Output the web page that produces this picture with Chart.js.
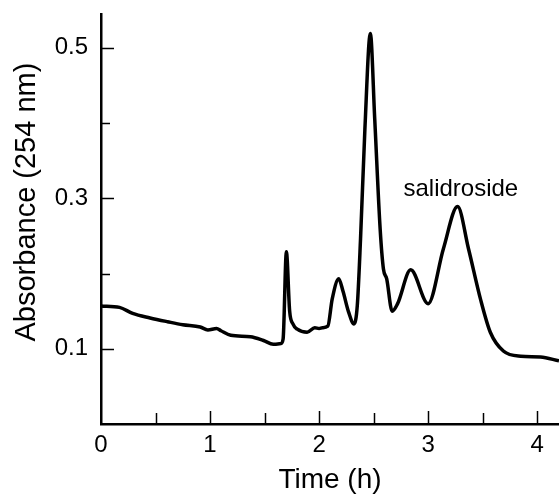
<!DOCTYPE html>
<html>
<head>
<meta charset="utf-8">
<script src="https://cdn.jsdelivr.net/npm/chart.js@4"></script>
<style>
  html, body { margin: 0; padding: 0; background: #fff; }
</style>
</head>
<body>
<canvas id="chromChart" width="559" height="497"></canvas>
<script>
// chromatogram trace
const timeH = [0.00, 0.17, 0.29, 0.45, 0.61, 0.75, 0.91, 0.98, 1.06, 1.10, 1.19, 1.37, 1.49, 1.58, 1.65, 1.67, 1.70, 1.73, 1.76, 1.80,
               1.89, 1.96, 2.00, 2.03, 2.08, 2.12, 2.18, 2.22, 2.27, 2.32, 2.35, 2.38, 2.42, 2.47, 2.51, 2.56, 2.59, 2.62, 2.67, 2.72,
               2.84, 3.00, 3.14, 3.27, 3.37, 3.48, 3.57, 3.69, 3.85, 4.03, 4.20];
const absorbance = [0.157, 0.155, 0.147, 0.141, 0.136, 0.132, 0.129, 0.125, 0.127, 0.124, 0.118, 0.116, 0.111, 0.106, 0.107, 0.113, 0.229, 0.150, 0.133, 0.126,
                    0.122, 0.128, 0.127, 0.128, 0.130, 0.166, 0.193, 0.176, 0.149, 0.133, 0.157, 0.246, 0.392, 0.519, 0.406, 0.259, 0.206, 0.193, 0.150, 0.160,
                    0.205, 0.160, 0.233, 0.289, 0.233, 0.166, 0.122, 0.097, 0.090, 0.089, 0.084];

const xTicks = [0, 0.5, 1, 1.5, 2, 2.5, 3, 3.5, 4];
const xLabels = { 0: '0', 1: '1', 2: '2', 3: '3', 4: '4' };
const yTicks = [0.1, 0.2, 0.3, 0.4, 0.5];
const yLabels = { 0.1: '0.1', 0.3: '0.3', 0.5: '0.5' };

const yTitle = 'Absorbance (254 nm)';
const peakLabel = 'salidroside';
const peakLabelAt = { x: 3.30, y: 0.3125 };

const FONT = '"Liberation Sans", Arial, Helvetica, sans-serif';

// tick marks point into the plot, like the original figure
const innerTicks = {
    id: 'innerTicks',
    afterDatasetsDraw(chart) {
        const { ctx, chartArea, scales } = chart;
        ctx.save();
        ctx.strokeStyle = '#000';
        ctx.lineWidth = 1.5;
        yTicks.forEach(v => {
            const y = Math.round(scales.y.getPixelForValue(v)) + 0.5;
            const len = yLabels[v] ? 13 : 9;
            ctx.beginPath();
            ctx.moveTo(chartArea.left, y);
            ctx.lineTo(chartArea.left + len, y);
            ctx.stroke();
        });
        xTicks.forEach(v => {
            if (v === 0) return;
            const x = Math.round(scales.x.getPixelForValue(v)) + 0.5;
            const len = xLabels[v] ? 13 : 11;
            ctx.beginPath();
            ctx.moveTo(x, chartArea.bottom);
            ctx.lineTo(x, chartArea.bottom - len);
            ctx.stroke();
        });
        ctx.fillStyle = '#000';
        ctx.textAlign = 'center';
        ctx.textBaseline = 'middle';
        // peak annotation
        ctx.font = '24px ' + FONT;
        ctx.fillText(peakLabel, scales.x.getPixelForValue(peakLabelAt.x), scales.y.getPixelForValue(peakLabelAt.y));
        // y title sits a bit above the middle of the axis in the original
        ctx.font = '29px ' + FONT;
        ctx.translate(27, scales.y.getPixelForValue(0.295));
        ctx.rotate(-Math.PI / 2);
        ctx.fillText(yTitle, 0, 0);
        ctx.restore();
    }
};

new Chart(document.getElementById('chromChart'), {
    type: 'line',
    data: {
        datasets: [{
            data: timeH.map((t, i) => ({ x: t, y: absorbance[i] })),
            borderColor: '#000',
            borderWidth: 3.5,
            pointRadius: 0,
            fill: false,
            cubicInterpolationMode: 'monotone'
        }]
    },
    options: {
        responsive: false,
        animation: false,
        layout: { padding: { top: 14, right: 0, left: 0, bottom: 0 } },
        plugins: { legend: { display: false }, tooltip: { enabled: false } },
        scales: {
            x: {
                type: 'linear',
                min: 0,
                max: 4.2,
                afterBuildTicks: s => { s.ticks = xTicks.map(v => ({ value: v })); },
                afterFit: s => { s.height = 73; s.paddingLeft = 0; s.paddingRight = 0; },
                grid: { display: false, drawTicks: false },
                border: { display: true, color: '#000', width: 2.5 },
                ticks: {
                    autoSkip: false,
                    maxRotation: 0,
                    padding: 7,
                    color: '#000',
                    font: { family: FONT, size: 24 },
                    callback: v => xLabels[v] || ''
                },
                title: {
                    display: true,
                    text: 'Time (h)',
                    color: '#000',
                    font: { family: FONT, size: 28 },
                    padding: { top: 2, bottom: 0 }
                }
            },
            y: {
                type: 'linear',
                min: 0,
                max: 0.545,
                afterBuildTicks: s => { s.ticks = yTicks.map(v => ({ value: v })); },
                afterFit: s => { s.width = 101; s.paddingTop = 0; s.paddingBottom = 0; },
                grid: { display: false, drawTicks: false },
                border: { display: true, color: '#000', width: 2.5 },
                ticks: {
                    autoSkip: false,
                    padding: 13,
                    color: '#000',
                    font: { family: FONT, size: 24 },
                    callback: v => yLabels[v] || ''
                }
            }
        }
    },
    plugins: [innerTicks]
});
</script>
</body>
</html>
